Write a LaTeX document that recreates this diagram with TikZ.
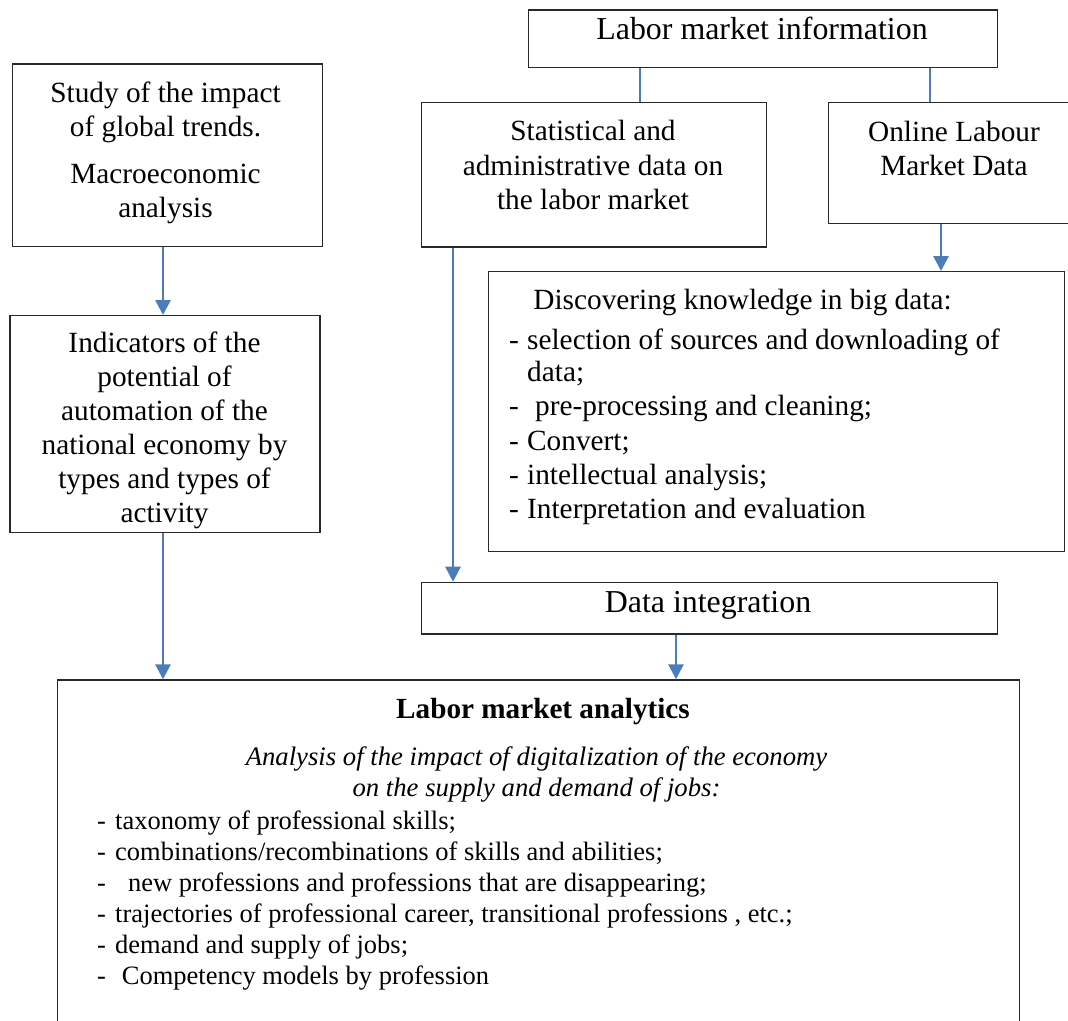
\documentclass[tikz,border=0pt]{standalone}
\usepackage{fontspec}
\setmainfont{Liberation Serif}
\usetikzlibrary{arrows.meta}
\definecolor{linkblue}{RGB}{74,126,187}
\definecolor{boxline}{RGB}{40,40,40}
\tikzset{
  box/.style={draw=boxline, line width=1.3pt, fill=white, inner sep=0, anchor=north west},
  txt/.style={inner sep=0, anchor=base},
  ltxt/.style={inner sep=0, anchor=base west},
  conn/.style={draw=linkblue, line width=2.7pt},
  arr/.style={conn, -{Triangle[length=15pt, width=15pt]}},
  nf/.style={font=\fontsize{29.3}{34}\selectfont},
  bf/.style={font=\fontsize{31.9}{36}\selectfont},
  lf/.style={font=\fontsize{26.5}{31}\selectfont},
  itf/.style={font=\fontsize{26.7}{31}\selectfont\itshape},
  tf/.style={font=\fontsize{29.2}{34}\selectfont\bfseries},
}
\begin{document}
\begin{tikzpicture}[x=1pt,y=-1pt]
\useasboundingbox (0,0) rectangle (1068,1020);

% boxes
\node[box, minimum width=469.3, minimum height=57.4] (lmi) at (527.7,9.3) {};
\node[box, minimum width=310, minimum height=182.4] (study) at (11.7,63.3) {};
\node[box, minimum width=345, minimum height=144.3] (stat) at (420.7,102) {};
\node[box, minimum width=260, minimum height=120.5] (online) at (827.6,102) {};
\node[box, minimum width=576, minimum height=280] (disc) at (487.5,271) {};
\node[box, minimum width=310, minimum height=216.7] (ind) at (9.3,315) {};
\node[box, minimum width=576.2, minimum height=51.6] (di) at (420.6,581.7) {};
\node[box, minimum width=962.5, minimum height=360] (ana) at (56.5,679.3) {};

% coordinates for connector x positions
\coordinate (xa) at (640,0);
\coordinate (xb) at (930,0);
\coordinate (xc) at (163,0);
\coordinate (xd) at (941,0);
\coordinate (xe) at (453,0);
\coordinate (xf) at (676,0);

% connectors
\draw[conn] (lmi.south -| xa) -- (stat.north -| xa);
\draw[conn] (lmi.south -| xb) -- (online.north -| xb);
\draw[arr] (study.south -| xc) -- (ind.north -| xc);
\draw[arr] (online.south -| xd) -- (disc.north -| xd);
\draw[arr] (stat.south -| xe) -- (di.north -| xe);
\draw[arr] (ind.south -| xc) -- (ana.north -| xc);
\draw[arr] (di.south -| xf) -- (ana.north -| xf);

% texts
\node[txt, bf] (t-lmi) at (762,39.5) {Labor market information};

\node[txt, nf] (t-s1) at (165.5,102) {Study of the impact};
\node[txt, nf] (t-s2) at (165.5,136) {of global trends.};
\node[txt, nf] (t-s3) at (165.5,183) {Macroeconomic};
\node[txt, nf] (t-s4) at (165.5,217) {analysis};

\node[txt, nf] (t-st1) at (593,140) {Statistical and};
\node[txt, nf] (t-st2) at (593,175) {administrative data on};
\node[txt, nf] (t-st3) at (593,209) {the labor market};

\node[txt, nf] (t-o1) at (954,141) {Online Labour};
\node[txt, nf] (t-o2) at (954,175) {Market Data};

\node[ltxt, nf] (t-d0) at (533.2,309) {Discovering knowledge in big data:};
\node[ltxt, nf] (t-d1) at (509,349) {\makebox[18pt][l]{-}selection of sources and downloading of};
\node[ltxt, nf] (t-d2) at (527,381) {data;};
\node[ltxt, nf] (t-d3) at (509,415) {\makebox[26pt][l]{-}pre-processing and cleaning;};
\node[ltxt, nf] (t-d4) at (509,450) {\makebox[18pt][l]{-}Convert;};
\node[ltxt, nf] (t-d5) at (509,484) {\makebox[18pt][l]{-}intellectual analysis;};
\node[ltxt, nf] (t-d6) at (509,518.5) {\makebox[18pt][l]{-}Interpretation and evaluation};

\node[txt, nf] (t-i1) at (164.5,352) {Indicators of the};
\node[txt, nf] (t-i2) at (164.5,386) {potential of};
\node[txt, nf] (t-i3) at (164.5,420) {automation of the};
\node[txt, nf] (t-i4) at (164.5,454) {national economy by};
\node[txt, nf] (t-i5) at (164.5,488) {types and types of};
\node[txt, nf] (t-i6) at (164.5,522) {activity};

\node[txt, bf] (t-di) at (708,612) {Data integration};

\node[txt, tf] (t-a0) at (543,718.5) {Labor market analytics};
\node[txt, itf] (t-a1) at (536.5,765) {Analysis of the impact of digitalization of the economy};
\node[txt, itf] (t-a2) at (536.5,796) {on the supply and demand of jobs:};
\node[ltxt, lf] (t-a3) at (97,829) {\makebox[18pt][l]{-}taxonomy of professional skills;};
\node[ltxt, lf] (t-a4) at (97,860) {\makebox[18pt][l]{-}combinations/recombinations of skills and abilities;};
\node[ltxt, lf] (t-a5) at (97,891) {\makebox[31pt][l]{-}new professions and professions that are disappearing;};
\node[ltxt, lf] (t-a6) at (97,922) {\makebox[18pt][l]{-}trajectories of professional career, transitional professions , etc.;};
\node[ltxt, lf] (t-a7) at (97,953) {\makebox[18pt][l]{-}demand and supply of jobs;};
\node[ltxt, lf] (t-a8) at (97,984) {\makebox[24.7pt][l]{-}Competency models by profession};
\end{tikzpicture}
\end{document}
